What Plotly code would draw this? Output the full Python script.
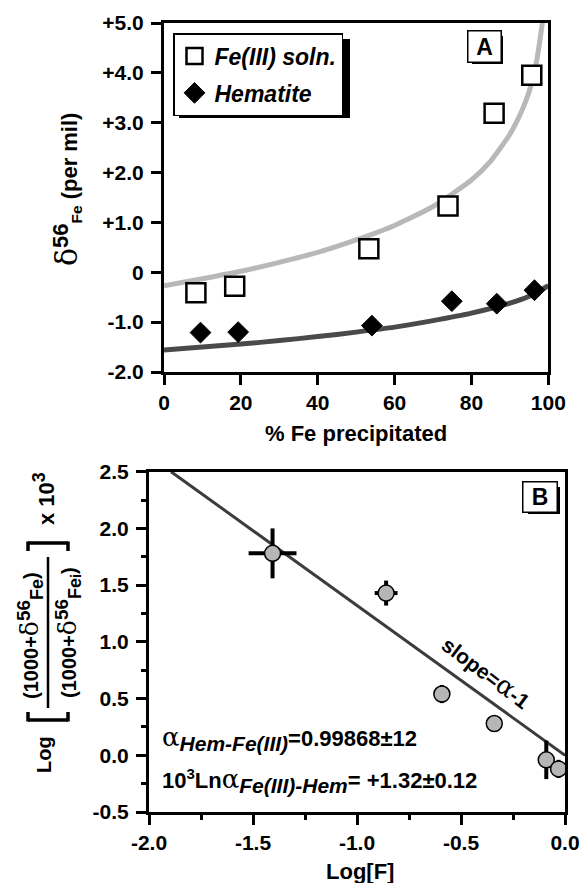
import plotly.graph_objects as go

W, H = 586, 883

# ---------------- Panel A data ----------------
pct_soln = [8.3, 18.4, 53.3, 73.9, 85.9, 95.7]
d56_soln = [-0.41, -0.28, 0.47, 1.33, 3.19, 3.95]
pct_hem = [9.5, 19.3, 54.1, 74.9, 86.6, 96.4]
d56_hem = [-1.21, -1.20, -1.07, -0.58, -0.63, -0.36]

# fitted curves, points
curve_soln_pct = [0, 10, 20, 30, 40, 50, 60, 70, 80, 85, 90, 93, 95, 97, 98, 98.8]
curve_soln_d56 = [-0.27, -0.13, 0.02, 0.20, 0.40, 0.65, 0.94, 1.32, 1.85, 2.23, 2.77, 3.22, 3.62, 4.25, 4.75, 5.2]
curve_hem_pct = [0, 10, 20, 30, 40, 50, 60, 70, 80, 90, 95, 100]
curve_hem_d56 = [-1.56, -1.50, -1.44, -1.37, -1.29, -1.20, -1.10, -0.97, -0.82, -0.62, -0.48, -0.27]

a_xticks = [0, 20, 40, 60, 80, 100]
a_xtext = ["0", "20", "40", "60", "80", "100"]
a_yticks = [5, 4, 3, 2, 1, 0, -1, -2]
a_ytext = ["+5.0", "+4.0", "+3.0", "+2.0", "+1.0", "0", "-1.0", "-2.0"]

# ---------------- Panel B data ----------------
logF = [-1.406, -0.86, -0.592, -0.34, -0.09, -0.031]
logR = [1.78, 1.43, 0.54, 0.28, -0.04, -0.12]
err_logR = [0.22, 0.11, 0.08, 0.0, 0.17, 0.08]
err_logF = [0.115, 0.055, 0.0, 0.0, 0.0, 0.0]
fit_logF = [-1.894, 0.0]
fit_logR = [2.5, 0.0]

b_xticks = [-2.0, -1.5, -1.0, -0.5, 0.0]
b_xtext = ["-2.0", "-1.5", "-1.0", "-0.5", "0.0"]
b_yticks = [2.5, 2.0, 1.5, 1.0, 0.5, 0.0, -0.5]
b_ytext = ["2.5", "2.0", "1.5", "1.0", "0.5", "0.0", "-0.5"]

FONT = "Liberation Sans, Arial, sans-serif"
GREEK = "DejaVu Serif"


def px(x):
    return x / W


def py(y):
    return 1 - y / H


fig = go.Figure()

# Panel A curves
fig.add_trace(go.Scatter(x=curve_soln_pct, y=curve_soln_d56, mode="lines",
                         line=dict(color="#b8b8b8", width=5, shape="spline", smoothing=0.6),
                         showlegend=False, xaxis="x", yaxis="y", hoverinfo="skip"))
fig.add_trace(go.Scatter(x=curve_hem_pct, y=curve_hem_d56, mode="lines",
                         line=dict(color="#4a4a4a", width=5, shape="spline", smoothing=0.6),
                         showlegend=False, xaxis="x", yaxis="y", hoverinfo="skip"))
# Panel A markers
fig.add_trace(go.Scatter(x=pct_soln, y=d56_soln, mode="markers", name="Fe(III) soln.",
                         legendgroup="soln",
                         marker=dict(symbol="square", size=19, color="white",
                                     line=dict(color="black", width=2.5)),
                         xaxis="x", yaxis="y"))
fig.add_trace(go.Scatter(x=pct_hem, y=d56_hem, mode="markers", name="Hematite",
                         legendgroup="hem",
                         marker=dict(symbol="diamond", size=16, color="black",
                                     line=dict(color="black", width=1)),
                         xaxis="x", yaxis="y"))

# Panel B
fig.add_trace(go.Scatter(x=fit_logF, y=fit_logR, mode="lines",
                         line=dict(color="#3c3c3c", width=3),
                         showlegend=False, xaxis="x2", yaxis="y2", hoverinfo="skip"))
fig.add_trace(go.Scatter(x=logF, y=logR, mode="markers",
                         error_y=dict(type="data", array=err_logR, color="black", thickness=4, width=0),
                         error_x=dict(type="data", array=err_logF, color="black", thickness=4, width=0),
                         marker=dict(symbol="circle", size=16, color="#b6b6b6",
                                     line=dict(color="black", width=1.5)),
                         showlegend=False, xaxis="x2", yaxis="y2"))

axis_common = dict(showline=True, linewidth=3, linecolor="black", mirror=True,
                   ticks="outside", ticklen=10, tickwidth=3, tickcolor="black",
                   showgrid=False, zeroline=False, fixedrange=True, automargin=False,
                   tickfont=dict(family=FONT, size=21, color="black", weight="bold"),
                   tickmode="array")

fig.update_layout(
    template="none",
    width=W, height=H,
    margin=dict(l=0, r=0, t=0, b=0, pad=0, autoexpand=False),
    paper_bgcolor="white", plot_bgcolor="white",
    font=dict(family=FONT, color="black"),
    xaxis=dict(domain=[px(164), px(548.3)], range=[0, 100], anchor="y",
               tickvals=a_xticks, ticktext=a_xtext, ticklabelstandoff=0, **axis_common),
    yaxis=dict(domain=[py(372), py(23)], range=[-2, 5], anchor="x",
               tickvals=a_yticks, ticktext=a_ytext, ticklabelstandoff=3, **axis_common),
    xaxis2=dict(domain=[px(149), px(565)], range=[-2, 0], anchor="y2",
                tickvals=b_xticks, ticktext=b_xtext, ticklabelstandoff=0,
                minor=dict(tickmode="linear", tick0=0, dtick=0.25, ticks="outside",
                           ticklen=5, tickwidth=3, tickcolor="black"),
                **axis_common),
    yaxis2=dict(domain=[py(812), py(471.7)], range=[-0.5, 2.5], anchor="x2",
                tickvals=b_yticks, ticktext=b_ytext, ticklabelstandoff=3,
                minor=dict(tickmode="linear", tick0=0, dtick=0.25, ticks="outside",
                           ticklen=5, tickwidth=3, tickcolor="black"),
                **axis_common),
    legend=dict(x=px(173), y=py(33), xanchor="left", yanchor="top",
                bgcolor="white", bordercolor="black", borderwidth=1.5,
                font=dict(family=FONT, size=23, color="black", weight="bold", style="italic"),
                itemsizing="trace", tracegroupgap=4, itemwidth=30),
    showlegend=True,
)

shapes = []
# legend shadow
shapes.append(dict(type="rect", xref="paper", yref="paper",
                   x0=px(179), x1=px(350), y0=py(118), y1=py(39),
                   fillcolor="black", line=dict(width=0), layer="above"))
# A box shadow / B box shadow
shapes.append(dict(type="rect", xref="paper", yref="paper",
                   x0=px(472), x1=px(503), y0=py(64), y1=py(36),
                   fillcolor="black", line=dict(width=0), layer="above"))
shapes.append(dict(type="rect", xref="paper", yref="paper",
                   x0=px(528), x1=px(560), y0=py(514), y1=py(487),
                   fillcolor="black", line=dict(width=0), layer="above"))


def seg(x0, y0, x1, y1, w=3.5):
    shapes.append(dict(type="line", xref="paper", yref="paper",
                       x0=px(x0), y0=py(y0), x1=px(x1), y1=py(y1),
                       line=dict(color="black", width=w)))


# brackets of panel B y title (rotated)
seg(28, 720, 68, 720)
seg(28, 721.5, 28, 712)
seg(68, 721.5, 68, 712)
seg(28, 543, 68, 543)
seg(28, 541.5, 28, 551)
seg(68, 541.5, 68, 551)
# fraction bar
seg(48, 557, 48, 708, w=2.5)

fig.update_layout(shapes=shapes)


def greek(ch, size):
    return f"<span style='font-family:{GREEK};font-weight:normal;font-size:{size}px'>{ch}</span>"


def sized(t, size):
    return f"<span style='font-size:{size}px'>{t}</span>"


bold = dict(family=FONT, size=22, color="black", weight="bold")
bold20 = dict(family=FONT, size=20, color="black", weight="bold")
bold21 = dict(family=FONT, size=21, color="black", weight="bold")


def note(text, x, y, **kw):
    d = dict(text=text, x=px(x), y=py(y), xref="paper", yref="paper", showarrow=False,
             xanchor="center", yanchor="middle", font=bold)
    d.update(kw)
    return d


ann = []
# panel labels
ann.append(note("A", 484, 46, width=30, height=28, bgcolor="white", bordercolor="black",
                borderwidth=1.5, font=dict(family=FONT, size=23, color="black", weight="bold")))
ann.append(note("B", 540, 497, width=31, height=27, bgcolor="white", bordercolor="black",
                borderwidth=1.5, font=dict(family=FONT, size=23, color="black", weight="bold")))
# axis titles
ann.append(note("% Fe precipitated", 356, 433))
ann.append(note("Log[F]", 360, 871))
ann.append(note(greek("δ", 30) + "<sup>" + sized("56", 22) + "</sup><sub>Fe</sub> (per mil)",
                67, 190, textangle=-90, font=bold))
# panel B y title
ann.append(note("Log", 44, 755, textangle=-90, font=bold20))
ann.append(note("(1000+" + greek("δ", 25) + "<sup>" + sized("56", 19) + "</sup><sub>"
                + sized("Fe", 18) + "</sub>)", 30, 636, textangle=-90, font=bold20))
ann.append(note("(1000+" + greek("δ", 25) + "<sup>" + sized("56", 19) + "</sup><sub>"
                + sized("Fe", 18) + "</sub><sub>" + sized("i", 14) + "</sub>)",
                68, 633, textangle=-90, font=bold20))
ann.append(note("x 10<sup>" + sized("3", 18) + "</sup>", 44, 499, textangle=-90, font=bold))
# panel B annotations
ann.append(note("slope=" + greek("α", 26) + "-1", 487, 672, textangle=37, font=bold21))
ann.append(note(greek("α", 26) + "<sub><i>" + sized("Hem-Fe(III)", 21) + "</i></sub>=0.99868±12",
                160, 738, xanchor="left"))
ann.append(note("10<sup>" + sized("3", 15) + "</sup>Ln" + greek("α", 26) + "<sub><i>"
                + sized("Fe(III)-Hem", 21) + "</i></sub>= +1.32±0.12",
                160, 780, xanchor="left"))
fig.update_layout(annotations=ann)

fig.write_html("out.html", config={"displayModeBar": False},
               post_script="document.body.style.margin='0';document.body.style.padding='0';")
